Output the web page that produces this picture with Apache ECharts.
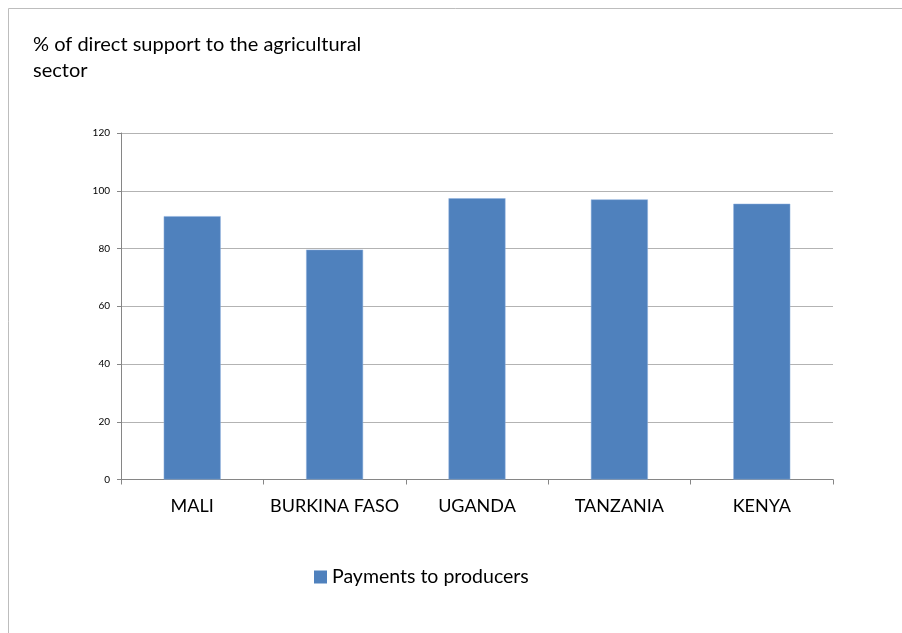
<!DOCTYPE html>
<html>
<head>
<meta charset="utf-8">
<style>
  html, body { margin: 0; padding: 0; background: #fff; }
  #chart { width: 902px; height: 633px; }
</style>
<script src="https://cdn.jsdelivr.net/npm/echarts@6/dist/echarts.min.js"></script>
</head>
<body>
<div id="chart"></div>
<script>
// Share of direct support to the agricultural sector paid to producers
const countries = ['MALI', 'BURKINA FASO', 'UGANDA', 'TANZANIA', 'KENYA'];
const paymentsToProducers = [91.2, 79.6, 97.4, 97.0, 95.5];
const seriesName = 'Payments to producers';
const titleLines = ['% of direct support to the agricultural', 'sector'];

const FONT = 'Lato, "Open Sans", sans-serif';

const chart = echarts.init(document.getElementById('chart'), null, { renderer: 'canvas' });
chart.setOption({
  animation: false,
  backgroundColor: '#ffffff',
  textStyle: { fontFamily: FONT },
  graphic: [{
    type: 'rect',
    shape: { x: 8.5, y: 8.5, width: 1200, height: 1200 },
    style: { fill: 'none', stroke: '#bdbdbd', lineWidth: 1 },
    silent: true
  }],
  title: {
    text: titleLines.join('\n'),
    left: 28,
    top: 27,
    textStyle: {
      fontFamily: FONT,
      fontSize: 20,
      fontWeight: 'normal',
      color: '#000',
      lineHeight: 26
    }
  },
  legend: {
    data: [seriesName],
    left: 309,
    top: 562,
    icon: 'rect',
    itemWidth: 13,
    itemHeight: 13,
    itemGap: 4,
    itemStyle: { borderWidth: 0 },
    textStyle: { fontFamily: FONT, fontSize: 19.5, color: '#000' }
  },
  grid: { left: 121, right: 69, top: 133, bottom: 153.5, containLabel: false },
  xAxis: {
    type: 'category',
    data: countries,
    axisLine: { lineStyle: { color: '#868686', width: 1 } },
    axisTick: { show: true, length: 5, lineStyle: { color: '#868686' } },
    axisLabel: { interval: 0, fontFamily: FONT, fontSize: 18, color: '#000', margin: 18 },
    splitLine: { show: false }
  },
  yAxis: {
    type: 'value',
    min: 0,
    max: 120,
    interval: 20,
    axisLine: { show: true, lineStyle: { color: '#868686', width: 1 } },
    axisTick: { show: true, length: 4, lineStyle: { color: '#868686' } },
    axisLabel: { fontFamily: FONT, fontSize: 10, color: '#000', margin: 11 },
    splitLine: { show: true, lineStyle: { color: '#b3b3b3', width: 1 } }
  },
  series: [{
    name: seriesName,
    type: 'bar',
    data: paymentsToProducers,
    barCategoryGap: '60%',
    itemStyle: { color: '#4f81bd', borderColor: '#8eb1de', borderWidth: 0.5 }
  }]
});
</script>
</body>
</html>
